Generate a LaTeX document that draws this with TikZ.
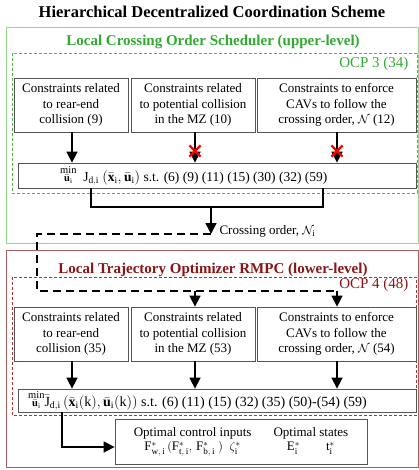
\documentclass[tikz,border=0pt]{standalone}
\usepackage{fontspec}
\setmainfont{Liberation Serif}
\usetikzlibrary{arrows.meta,shapes.misc}
\definecolor{gOuter}{RGB}{150,215,140}
\definecolor{gText}{RGB}{50,170,50}
\definecolor{gDash}{RGB}{80,180,80}
\definecolor{rOuter}{RGB}{165,95,95}
\definecolor{rText}{RGB}{140,20,20}
\definecolor{rDash}{RGB}{180,50,50}
\definecolor{boxline}{RGB}{85,85,85}
\tikzset{
  cbox/.style={draw=boxline, line width=0.8pt, align=center, inner sep=1pt,
    font=\fontsize{13}{15.5}\selectfont, minimum height=54pt},
  mbox/.style={draw=boxline, line width=0.8pt, inner sep=1pt,
    font=\fontsize{13}{15.5}\selectfont},
  mtext/.style={font=\fontsize{14}{16}\selectfont, anchor=west, inner sep=0pt},
  arr/.style={line width=1.6pt, -{Triangle[width=11pt,length=11pt]}},
  conn/.style={line width=1.6pt},
  dline/.style={line width=1.6pt, dash pattern=on 8pt off 5pt},
  xmark/.style={cross out, draw=red, line width=2.2pt, minimum size=9pt, inner sep=0pt},
  ttl/.style={font=\fontsize{15}{18}\selectfont\bfseries},
}
\newcommand{\mystack}[1]{\shortstack{\fontsize{10.5}{10}\selectfont min\\[-1pt]\fontsize{10.5}{10}\selectfont $#1$}}
\begin{document}
\begin{tikzpicture}[x=1pt,y=-1pt]
\useasboundingbox (0,0) rectangle (419,470);
\node[font=\fontsize{16.5}{19}\selectfont\bfseries] (title) at (212,12) {Hierarchical Decentralized Coordination Scheme};
% upper level
\draw[gOuter, line width=1pt] (6,28) rectangle (418.5,243);
\node[ttl, text=gText] (gtitle) at (213,42) {Local Crossing Order Scheduler (upper-level)};
\draw[gDash, line width=0.8pt, densely dashed] (12,53) rectangle (417,193);
\node[anchor=east, text=gText, font=\fontsize{15}{18}\selectfont] (ocp3) at (412,64) {OCP 3 (34)};
\node[cbox, minimum width=114pt] (c1) at (71,105) {Constraints related\\to rear-end\\collision (9)};
\node[cbox, minimum width=124pt] (c2) at (193,105) {Constraints related\\to potential collision\\in the MZ (10)};
\node[cbox, minimum width=159pt] (c3) at (336.5,105) {Constraints to enforce\\CAVs to follow the\\crossing order, $\mathcal{N}$ (12)};
\node[mbox, minimum width=398pt, minimum height=25pt] (m1) at (217,175.5) {};
\node[mtext, font=\fontsize{13.5}{16}\selectfont] (m1t) at (60,176) {\mystack{\bar{\mathbf{u}}_\mathrm{i}}\ \ $\mathrm{J}_{\mathrm{d,i}}$ $(\bar{\mathbf{x}}_\mathrm{i},\bar{\mathbf{u}}_\mathrm{i})$ s.t. (6) (9) (11) (15) (30) (32) (59)};
\draw[arr] (c1.south -| 72,0) -- (m1.north -| 72,0);
\draw[arr] (c2.south -| 195,0) -- (m1.north -| 195,0);
\draw[arr] (c3.south -| 337,0) -- (m1.north -| 337,0);
\node[xmark] (x2) at (195,151) {};
\node[xmark] (x3) at (337,151) {};
\coordinate (j1) at (91,207);
\coordinate (j2) at (323,207);
\coordinate (jm) at (211,207);
\coordinate (co) at (211,234);
\draw[conn] (m1.south -| j1) -- (j1) -- (j2) -- (m1.south -| j2);
\draw[arr] (jm) -- (co);
\node[anchor=west, font=\fontsize{13}{15.5}\selectfont] (colab) at (216,231) {Crossing order, $\mathcal{N}_\mathrm{i}$};
% lower level
\draw[rOuter, line width=1pt] (6,250) rectangle (418.5,467);
\node[ttl, text=rText] (rtitle) at (213,270) {Local Trajectory Optimizer RMPC (lower-level)};
\draw[rDash, line width=0.8pt, densely dashed] (12,277) rectangle (416.5,415);
\node[anchor=east, text=rText, font=\fontsize{15}{18}\selectfont] (ocp4) at (412,285) {OCP 4 (48)};
\node[cbox, minimum width=114pt] (c4) at (71,334) {Constraints related\\to rear-end\\collision (35)};
\node[cbox, minimum width=124pt] (c5) at (193,334) {Constraints related\\to potential collision\\in the MZ (53)};
\node[cbox, minimum width=159pt] (c6) at (336.5,334) {Constraints to enforce\\CAVs to follow the\\crossing order, $\mathcal{N}$ (54)};
\coordinate (d1) at (37,234);
\coordinate (d2) at (37,291);
\coordinate (d3) at (337,291);
\draw[dline] (co) -- (d1) -- (d2) -- (d3);
\draw[arr] (d2 -| 195,0) -- (c5.north -| 195,0);
\draw[arr] (d3) -- (c6.north -| d3);
\node[mbox, minimum width=398pt, minimum height=23pt] (m2) at (217,400.5) {};
\node[mtext] (m2t) at (28,401) {\mystack{\bar{\mathbf{u}}_\mathrm{i}}$\bar{\mathrm{J}}_{\mathrm{d,i}}$\,$(\bar{\mathbf{x}}_\mathrm{i}(\mathrm{k}),\bar{\mathbf{u}}_\mathrm{i}(\mathrm{k}))$ s.t. (6) (11) (15) (32) (35) (50)-(54) (59)};
\draw[arr] (c4.south -| 72,0) -- (m2.north -| 72,0);
\draw[arr] (c5.south -| 195,0) -- (m2.north -| 195,0);
\draw[arr] (c6.south -| 337,0) -- (m2.north -| 337,0);
\node[draw=boxline, line width=0.8pt, minimum width=252pt, minimum height=45pt, inner sep=0pt, font=\fontsize{13}{14}\selectfont] (o) at (241,441.5)
  {\begin{tabular}{@{}c@{\hspace{22pt}}c@{}}
   Optimal control inputs & Optimal states\\
   $\mathrm{F}^{*}_{\mathrm{w,\,i}}\,(\mathrm{F}^{*}_{\mathrm{t,\,i}},\,\mathrm{F}^{*}_{\mathrm{b,\,i}}\;)\;\;\zeta^{*}_{\mathrm{i}}$ & $\mathrm{E}^{*}_{\mathrm{i}}\qquad\mathrm{t}^{*}_{\mathrm{i}}$
   \end{tabular}};
\coordinate (k) at (62,447);
\draw[arr] (m2.south -| k) -- (k) -- (o.west |- k);
\end{tikzpicture}
\end{document}
